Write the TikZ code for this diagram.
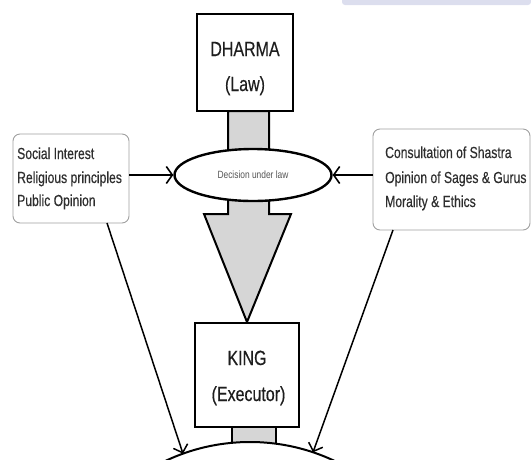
\documentclass[tikz,border=0pt]{standalone}
\usepackage{fontspec}
\setmainfont{Liberation Sans}
\newfontfamily\nar[FakeStretch=0.78,FakeBold=0.35]{Liberation Sans}
\newfontfamily\narside[FakeStretch=0.76,FakeBold=0.3]{Liberation Sans}
\newfontfamily\narthin[FakeStretch=0.8]{Liberation Sans}
\usetikzlibrary{arrows.meta,shapes.geometric}
\definecolor{lav}{HTML}{DCDEEE}
\definecolor{arrowgray}{HTML}{D6D6D6}
\definecolor{boxgray}{HTML}{A0A0A0}
\definecolor{txt}{HTML}{1E1E1E}
\definecolor{sidetxtc}{HTML}{2E2E2E}
\definecolor{dectxt}{HTML}{555555}
\tikzset{
  bigbox/.style={draw=black, line width=2.4pt, fill=white, inner sep=0pt, outer sep=0pt},
  sidebox/.style={draw=boxgray, line width=0.9pt, rounded corners=7pt, fill=white, inner sep=0pt, outer sep=0pt},
  bigtxt/.style={font=\nar\fontsize{20.5}{24}\selectfont, text=txt, anchor=base, inner sep=0pt},
  sidetxt/.style={font=\narside\fontsize{16}{18}\selectfont, text=sidetxtc, anchor=base west, inner sep=0pt},
  dectext/.style={font=\narthin\fontsize{10.5}{12}\selectfont, text=dectxt, anchor=base, inner sep=0pt},
  harr/.style={line width=2.4pt, -{Straight Barb[length=6pt,width=17pt,line width=1.6pt]}},
  darr/.style={line width=1.5pt, -{Straight Barb[length=7pt,width=15pt]}},
}
\begin{document}
\begin{tikzpicture}[x=1pt,y=-1pt]
\useasboundingbox (0,0) rectangle (531,459);
% top bar
\fill[lav, rounded corners=3pt] (342,-6) rectangle (531,5);
% big arrow
\draw[line width=2pt, fill=arrowgray, line join=miter]
  (228,111) -- (228,214) -- (204,214) -- (247,322) -- (291,214) -- (269,214) -- (269,111) -- cycle;
% decision ellipse
\node[ellipse, draw=black, line width=2.4pt, fill=white, minimum width=157, minimum height=52, inner sep=0pt] (dec) at (253,175) {};
\node[dectext] (decT) at (253,178) {Decision under law};
% DHARMA
\node[bigbox, minimum width=96, minimum height=97] (dharma) at (245,62.5) {};
\node[bigtxt] (dharmaT) at (245,56) {DHARMA};
\node[bigtxt] (lawT) at (245,91) {(Law)};
% stem below king
\draw[line width=2pt, fill=arrowgray] (232,427) rectangle (276,450);
% arc
\draw[line width=2pt, fill=white] (250,640) circle[radius=198];
% KING
\node[bigbox, minimum width=104, minimum height=104] (king) at (247,375) {};
\node[bigtxt] (kingT) at (247,365) {KING};
\node[bigtxt] (execT) at (248.5,401) {(Executor)};
% side boxes
\node[sidebox, minimum width=116, minimum height=89] (lb) at (71,178.5) {};
\node[sidetxt] (l1) at (17,159) {Social Interest};
\node[sidetxt] (l2) at (17,183) {Religious principles};
\node[sidetxt] (l3) at (17,206) {Public Opinion};
\node[sidebox, minimum width=157, minimum height=101] (rb) at (451.5,179.5) {};
\node[sidetxt] (r1) at (385,158) {Consultation of Shastra};
\node[sidetxt] (r2) at (385,183) {Opinion of Sages \& Gurus};
\node[sidetxt] (r3) at (385,207) {Morality \& Ethics};
% arrows
\draw[harr] (lb.east |- dec.west) -- (dec.west);
\draw[harr] (rb.west |- dec.east) -- (dec.east);
\coordinate (aL) at (183,453.7);
\coordinate (aR) at (313,452.3);
\coordinate (sL) at (107,223);
\coordinate (sR) at (393,230);
\draw[darr] (sL) -- (aL);
\draw[darr] (sR) -- (aR);
\end{tikzpicture}
\end{document}
